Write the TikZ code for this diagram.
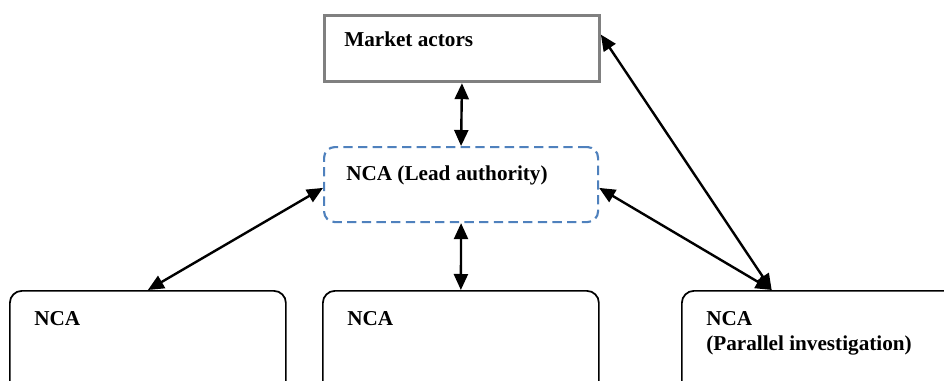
\documentclass[tikz,border=0pt]{standalone}
\usepackage{fontspec}
\setmainfont{Liberation Serif}
\usepackage{tikz}
\usetikzlibrary{arrows.meta, positioning}
\definecolor{boxgray}{HTML}{808080}
\definecolor{leadblue}{HTML}{4F81BD}

\begin{document}
\begin{tikzpicture}[
    x=0.75pt, y=-0.75pt,
    every node/.style={font=\fontsize{15.9}{19}\selectfont\bfseries},
    actorbox/.style={rectangle, draw=boxgray, line width=2.4pt, anchor=north west, minimum width=206pt, minimum height=49.5pt},
    leadbox/.style={rectangle, rounded corners=8pt, draw=leadblue, line width=1.6pt, dash pattern=on 7pt off 4pt, anchor=north west, minimum width=205.5pt, minimum height=56.25pt},
    ncabox/.style={rectangle, rounded corners=9pt, draw=black, line width=1.3pt, anchor=north west, minimum width=207pt, minimum height=78pt},
    boxlabel/.style={anchor=base west, inner sep=0pt},
    link/.style={line width=1.8pt, {Triangle[length=12pt,width=10.5pt]}-{Triangle[length=12pt,width=10.5pt]}},
]
\useasboundingbox (0,0) rectangle (944,381);
% boxes
\node[actorbox] (market) at (323,14) {};
\node[leadbox] (lead) at (323,146) {};
\node[ncabox] (ncaleft) at (9,290) {};
\node[ncabox] (ncamid) at (322,290) {};
\node[ncabox] (ncapar) at (681,290) {};
% labels
\node[boxlabel] (marketlabel) at (344,47) {Market actors};
\node[boxlabel] (leadlabel) at (346,180) {NCA (Lead authority)};
\node[boxlabel] (leftlabel) at (34,325) {NCA};
\node[boxlabel] (midlabel) at (347,325) {NCA};
\node[boxlabel] (parlabel) at (706,325) {NCA};
\node[boxlabel] (parsublabel) at (706,350) {(Parallel investigation)};
% links
\draw[link] (market.south) -- (lead.north);
\draw[link] (lead.south) -- (ncamid.north);
\draw[link] ([yshift=-2.5pt]lead.west) -- (ncaleft.north);
\draw[link] ([yshift=-2.5pt]lead.east) -- ([xshift=68pt]ncapar.north west);
\draw[link] ([yshift=10.5pt]market.east) -- ([xshift=68pt]ncapar.north west);
\end{tikzpicture}
\end{document}
